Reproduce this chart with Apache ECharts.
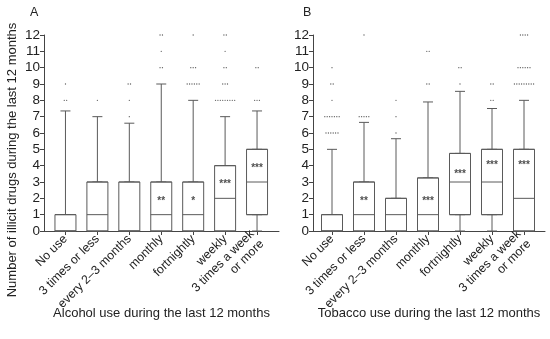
<!DOCTYPE html>
<html>
<head>
<meta charset="utf-8">
<script src="https://cdn.jsdelivr.net/npm/echarts@6/dist/echarts.min.js"></script>
<style>
html,body{margin:0;padding:0;background:#fff;}
#c{width:550px;height:339px;}
</style>
</head>
<body>
<div id="c"></div>
<script>
// ---------- data ----------
const categories = ['No use', '3 times or less', 'every 2–3 months', 'monthly', 'fortnightly', 'weekly', '3 times a week\nor more'];
const yMin = 0, yMax = 12, yStep = 1;

// [min, Q1, median, Q3, max]
const alcoholBoxes = [
  [0, 0, 0, 1, 7.35],
  [0, 0, 1, 3, 7],
  [0, 0, 0, 3, 6.6],
  [0, 0, 1, 3, 9],
  [0, 0, 1, 3, 8],
  [0, 0, 2, 4, 7],
  [0, 1, 3, 5, 7.35]
];
const tobaccoBoxes = [
  [0, 0, 0, 1, 5],
  [0, 0, 1, 3, 6.65],
  [0, 0, 1, 2, 5.65],
  [0, 0, 1, 3.25, 7.9],
  [0, 1, 3, 4.75, 8.55],
  [0, 1, 3, 5, 7.5],
  [0, 0, 2, 5, 8]
];
// outliers: [category index, value, number of cases]
const alcoholOutliers = [
  [0, 8, 2], [0, 9, 1],
  [1, 8, 1],
  [2, 7, 1], [2, 8, 1], [2, 9, 2],
  [3, 10, 2], [3, 11, 1], [3, 12, 2],
  [4, 9, 6], [4, 10, 3], [4, 12, 1],
  [5, 8, 9], [5, 9, 3], [5, 10, 2], [5, 11, 1], [5, 12, 2],
  [6, 8, 3], [6, 10, 2]
];
const tobaccoOutliers = [
  [0, 6, 6], [0, 7, 7], [0, 8, 1], [0, 9, 2], [0, 10, 1],
  [1, 7, 5], [1, 12, 1],
  [2, 6, 1], [2, 7, 1], [2, 8, 1],
  [3, 9, 2], [3, 11, 2],
  [4, 9, 1], [4, 10, 2],
  [5, 8, 2], [5, 9, 2],
  [6, 9, 9], [6, 10, 6], [6, 12, 4]
];
const alcoholStars = ['', '', '', '**', '*', '***', '***'];
const alcoholStarY = [null, null, null, 2, 2, 3, 4];
const tobaccoStars = ['', '**', '', '***', '***', '***', '***'];
const tobaccoStarY = [null, 1.95, null, 1.95, 3.65, 4.15, 4.15];

const alcoholTitle = 'Alcohol use during the last 12 months';
const tobaccoTitle = 'Tobacco use during the last 12 months';
const yTitle = 'Number of illicit drugs during the last 12 months';

// ---------- build ----------
const FONT = '"Liberation Sans", Arial, Helvetica, sans-serif';
const LINE = '#444';
const BOX = '#5a5a5a';

const grid = [], xAxis = [], yAxis = [], series = [];

function panel(boxes, outliers, stars, starY, xTitle, outer, inner) {
  const g0 = grid.length;
  grid.push(Object.assign({containLabel: false}, outer));
  grid.push(Object.assign({containLabel: false}, inner));
  const gi = g0 + 1;

  xAxis.push({
    type: 'value', gridIndex: g0, min: 0, max: 1,
    axisLine: {show: true, lineStyle: {color: LINE, width: 1}},
    axisTick: {show: false}, axisLabel: {show: false}, splitLine: {show: false},
    name: xTitle, nameLocation: 'middle', nameGap: 76,
    nameTextStyle: {fontFamily: FONT, fontSize: 13, color: '#222'}
  });
  yAxis.push({
    type: 'value', gridIndex: g0, min: yMin, max: yMax, interval: yStep,
    axisLine: {show: true, lineStyle: {color: LINE, width: 1}},
    axisTick: {show: true, inside: false, length: 4, lineStyle: {color: LINE}},
    axisLabel: {fontFamily: FONT, fontSize: 13.5, color: '#222', margin: 4},
    splitLine: {show: false}
  });

  const xCat = xAxis.length;
  xAxis.push({
    type: 'category', gridIndex: gi, data: categories, boundaryGap: true,
    axisLine: {show: false},
    axisTick: {show: true, alignWithLabel: true, length: 4, lineStyle: {color: LINE}},
    axisLabel: {interval: 0, rotate: 45, fontFamily: FONT, fontSize: 12.3, color: '#222', margin: 6, lineHeight: 14},
    splitLine: {show: false}
  });
  const xCat2 = xAxis.length;
  xAxis.push({
    type: 'category', gridIndex: gi, data: categories, boundaryGap: true, show: false
  });
  const xVal = xAxis.length;
  xAxis.push({
    type: 'value', gridIndex: gi, min: -0.5, max: categories.length - 0.5, show: false
  });
  const yIn = yAxis.length;
  yAxis.push({type: 'value', gridIndex: gi, min: yMin, max: yMax, interval: yStep, show: false});

  series.push({
    type: 'boxplot', xAxisIndex: xCat2, yAxisIndex: yIn, z: 2,
    boxWidth: [10, 10],
    itemStyle: {color: '#fff', borderColor: BOX, borderWidth: 1},
    emphasis: {disabled: true}, silent: true,
    data: boxes
  });
  series.push({
    type: 'boxplot', xAxisIndex: xCat, yAxisIndex: yIn, z: 3,
    boxWidth: [21, 21],
    itemStyle: {color: '#fff', borderColor: BOX, borderWidth: 1},
    emphasis: {disabled: true}, silent: true,
    data: boxes.map(b => [b[1], b[1], b[2], b[3], b[3]])
  });
  const pts = [];
  outliers.forEach(([c, v, n]) => {
    for (let k = 0; k < n; k++) {
      pts.push([c + (k - (n - 1) / 2) * 0.075, v]);
    }
  });
  series.push({
    type: 'scatter', xAxisIndex: xVal, yAxisIndex: yIn, z: 4,
    symbol: 'circle', symbolSize: 1.3,
    itemStyle: {color: '#333'},
    emphasis: {disabled: true}, silent: true,
    data: pts
  });
  const starData = [];
  stars.forEach((s, i) => {
    if (s) starData.push({name: s, value: [i, starY[i]]});
  });
  series.push({
    type: 'scatter', xAxisIndex: xVal, yAxisIndex: yIn, z: 5,
    symbolSize: 1, itemStyle: {color: 'rgba(0,0,0,0)'},
    emphasis: {disabled: true}, silent: true,
    label: {show: true, position: 'inside', formatter: '{b}', offset: [0, 2.5],
      fontFamily: FONT, fontSize: 10, fontWeight: 'bold', color: '#222'},
    data: starData
  });
}

panel(alcoholBoxes, alcoholOutliers, alcoholStars, alcoholStarY, alcoholTitle,
  {left: 44, top: 35, width: 235, height: 196},
  {left: 49.5, top: 35, width: 223.5, height: 196});
panel(tobaccoBoxes, tobaccoOutliers, tobaccoStars, tobaccoStarY, tobaccoTitle,
  {left: 313, top: 35, width: 232, height: 196},
  {left: 316, top: 35, width: 224, height: 196});

const chart = echarts.init(document.getElementById('c'), null, {renderer: 'canvas'});
chart.setOption({
  animation: false,
  backgroundColor: '#fff',
  title: [
    {text: 'A', left: 25, top: 1, textStyle: {fontFamily: FONT, fontSize: 12.5, fontWeight: 'normal', color: '#222'}},
    {text: 'B', left: 298, top: 1, textStyle: {fontFamily: FONT, fontSize: 12.5, fontWeight: 'normal', color: '#222'}}
  ],
  graphic: [{
    type: 'text', x: 12, y: 160, rotation: Math.PI / 2,
    style: {text: yTitle, fontFamily: FONT, fontSize: 13, fill: '#222', align: 'center', verticalAlign: 'middle'}
  }],
  grid, xAxis, yAxis, series
});
</script>
</body>
</html>
